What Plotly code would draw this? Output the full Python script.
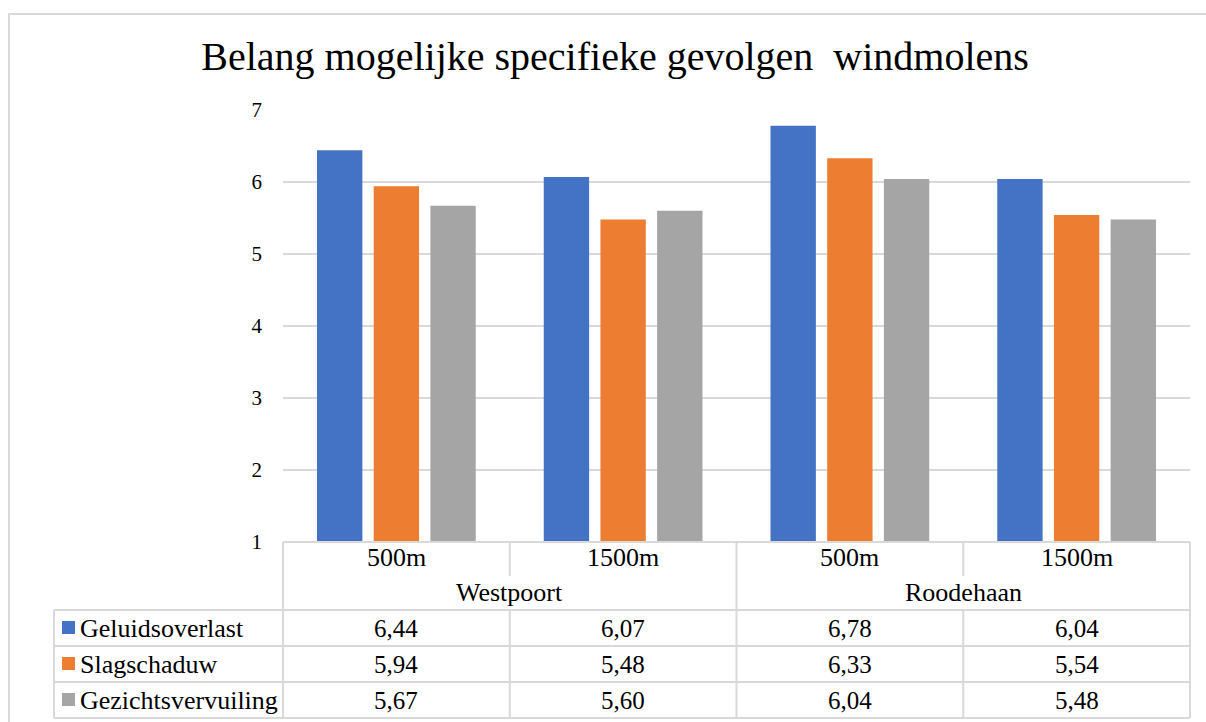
import plotly.graph_objects as go

groups = ["Westpoort", "Roodehaan"]
distances = ["500m", "1500m", "500m", "1500m"]
series_names = ["Geluidsoverlast", "Slagschaduw", "Gezichtsvervuiling"]
geluidsoverlast = [6.44, 6.07, 6.78, 6.04]
slagschaduw = [5.94, 5.48, 6.33, 5.54]
gezichtsvervuiling = [5.67, 5.60, 6.04, 5.48]
y_ticks = [1, 2, 3, 4, 5, 6, 7]

colors = ["#4472C4", "#ED7D31", "#A5A5A5"]
values = [geluidsoverlast, slagschaduw, gezichtsvervuiling]
FONT = "Liberation Serif"
W, H = 1206, 722
L, R, T, B = 283, 1190, 110, 542
GRID = "#D9D9D9"

def px(x):
    return (x - L) / (R - L)

def py(y):
    return (B - y) / (B - T)

fig = go.Figure()
xs = list(range(len(distances)))
for name, vals, c in zip(series_names, values, colors):
    fig.add_trace(go.Bar(x=xs, y=[v - 1 for v in vals], base=1, name=name,
                         marker=dict(color=c, line=dict(width=0)), showlegend=False))

shapes = []
ann = []

def line(x0, y0, x1, y1, w=2):
    shapes.append(dict(type="line", xref="paper", yref="paper", x0=px(x0), y0=py(y0),
                       x1=px(x1), y1=py(y1), line=dict(color=GRID, width=w), layer="above"))

ncol = len(distances)
colw = (R - L) / ncol
col_edges = [L + i * colw for i in range(ncol + 1)]
# header block
line(L, B, R, B)
for i, xe in enumerate(col_edges):
    if i % 2 == 0:
        line(xe, B, xe, 610)
    else:
        line(xe, B, xe, 576)
# data rows
row_tops = [610, 646, 682, 718]
for yt in row_tops:
    line(54, yt, R, yt)
line(54, 610, 54, 718)
for xe in col_edges:
    line(xe, 610, xe, 718)

tf = dict(family=FONT, size=26, color="#000000")
nf = dict(family=FONT, size=25, color="#000000")
for i, d in enumerate(distances):
    ann.append(dict(x=px(L + (i + 0.5) * colw), y=py(557), xref="paper", yref="paper",
                    text=d, showarrow=False, font=tf, xanchor="center", yanchor="middle"))
for g, gname in enumerate(groups):
    ann.append(dict(x=px(L + (2 * g + 1) * colw), y=py(592), xref="paper", yref="paper",
                    text=gname, showarrow=False, font=tf, xanchor="center", yanchor="middle"))
for r, (name, vals, c) in enumerate(zip(series_names, values, colors)):
    yc = 628 + 36 * r
    shapes.append(dict(type="rect", xref="paper", yref="paper", x0=px(62), x1=px(75),
                       y0=py(yc - 7), y1=py(yc + 6), fillcolor=c, line=dict(width=0)))
    ann.append(dict(x=px(78), y=py(yc), xref="paper", yref="paper", text=name,
                    showarrow=False, font=tf, xanchor="left", yanchor="middle"))
    for i, v in enumerate(vals):
        ann.append(dict(x=px(L + (i + 0.5) * colw), y=py(yc), xref="paper", yref="paper",
                        text=f"{v:.2f}".replace(".", ","), showarrow=False, font=nf,
                        xanchor="center", yanchor="middle"))

# outer chart border
shapes.append(dict(type="rect", xref="paper", yref="paper", x0=px(9), y0=py(14),
                   x1=px(1240), y1=py(760), line=dict(color=GRID, width=2)))

fig.update_layout(
    width=W, height=H,
    margin=dict(l=L, r=W - R, t=T, b=H - B),
    paper_bgcolor="white", plot_bgcolor="white",
    barmode="group", bargap=0.25, bargroupgap=0.2,
    title=dict(text="Belang mogelijke specifieke gevolgen  windmolens", x=0.51, xanchor="center",
               y=1 - 56 / H, yanchor="middle", yref="container",
               font=dict(family=FONT, size=40, color="#000000")),
    xaxis=dict(range=[-0.5, ncol - 0.5], showticklabels=False, showgrid=False,
               zeroline=False, showline=False, ticks=""),
    yaxis=dict(range=[1, 7], tickvals=y_ticks, showgrid=True, gridcolor=GRID, gridwidth=1.5,
               zeroline=False, showline=False, ticks="", ticklabelstandoff=20,
               tickfont=dict(family=FONT, size=21, color="#000000")),
    shapes=shapes, annotations=ann,
)
fig.write_html("out.html", config={"displayModeBar": False},
               post_script="document.body.style.margin='0';document.body.style.overflow='hidden';")
